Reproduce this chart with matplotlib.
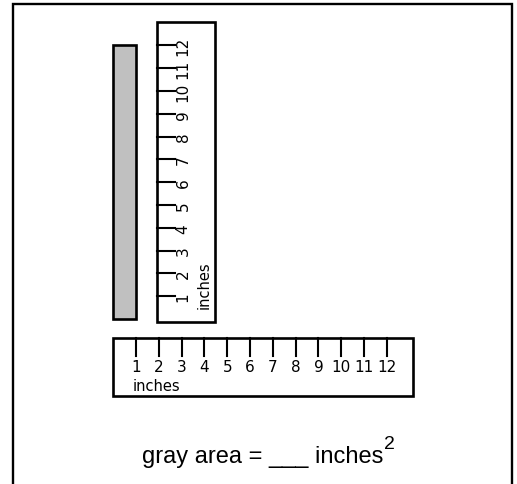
import matplotlib
matplotlib.use("Agg")
import matplotlib.pyplot as plt
from matplotlib.patches import Rectangle

# ruler marks (inches) and the gray strip size (inches)
ruler_ticks = list(range(1, 13))
ruler_labels = [str(t) for t in ruler_ticks]
unit_label = 'inches'
gray_width = 1
gray_height = 12
question = 'gray area = ___ inches'
power = '2'

# 1 data unit = 1 inch on the drawing, 22.8 px
px = 22.8
fig = plt.figure(figsize=(5.17, 4.85), dpi=100)
ax = fig.add_axes([0, 0, 1, 1])
ax.set_xlim(-113.2 / px, (517 - 113.2) / px)
ax.set_ylim((320 - 485) / px, 320 / px)
ax.axis('off')

# outer frame, open at the bottom
y0 = ax.get_ylim()[0]
ax.plot([-4.39, -4.39, 17.49, 17.49], [y0, 13.82, 13.82, y0],
        color='black', lw=1.7, solid_joinstyle='miter')

# gray strip
ax.add_patch(Rectangle((0, 0), gray_width, gray_height, facecolor='#c0c0c0',
                       edgecolor='black', lw=1.9))

ruler_len = 13.15
ruler_w = 2.55
tick_len = 0.79

# vertical ruler
vx, vy = 1.92, -0.13
ax.add_patch(Rectangle((vx, vy), ruler_w, ruler_len, facecolor='white',
                       edgecolor='black', lw=1.9))
for t, lab in zip(ruler_ticks, ruler_labels):
    ax.plot([vx, vx + tick_len], [t, t], color='black', lw=1.5)
    ax.text(vx + 1.15, t, lab, rotation=90, ha='center', va='center',
            fontsize=11, family='DejaVu Sans')
ax.text(vx + 2.06, 0.48, unit_label, rotation=90, rotation_mode='anchor',
        ha='left', va='center', fontsize=10.5, family='DejaVu Sans')

# horizontal ruler
hx, hy = 0, -0.83
ax.add_patch(Rectangle((hx, hy - ruler_w), ruler_len, ruler_w, facecolor='white',
                       edgecolor='black', lw=1.9))
for t, lab in zip(ruler_ticks, ruler_labels):
    ax.plot([t, t], [hy, hy - tick_len], color='black', lw=1.5)
    ax.text(t, hy - 1.27, lab, ha='center', va='center',
            fontsize=11, family='DejaVu Sans')
ax.text(hx + 0.87, hy - 2.07, unit_label, ha='left', va='center',
        fontsize=10.5, family='DejaVu Sans')

# question with a raised exponent
ax.text(11.83, -6.27, question, ha='right', va='baseline',
        fontsize=17, family='Liberation Sans')
ax.text(11.86, -5.66, power, ha='left', va='baseline',
        fontsize=14, family='Liberation Sans')

fig.savefig('out.png', dpi=100)
